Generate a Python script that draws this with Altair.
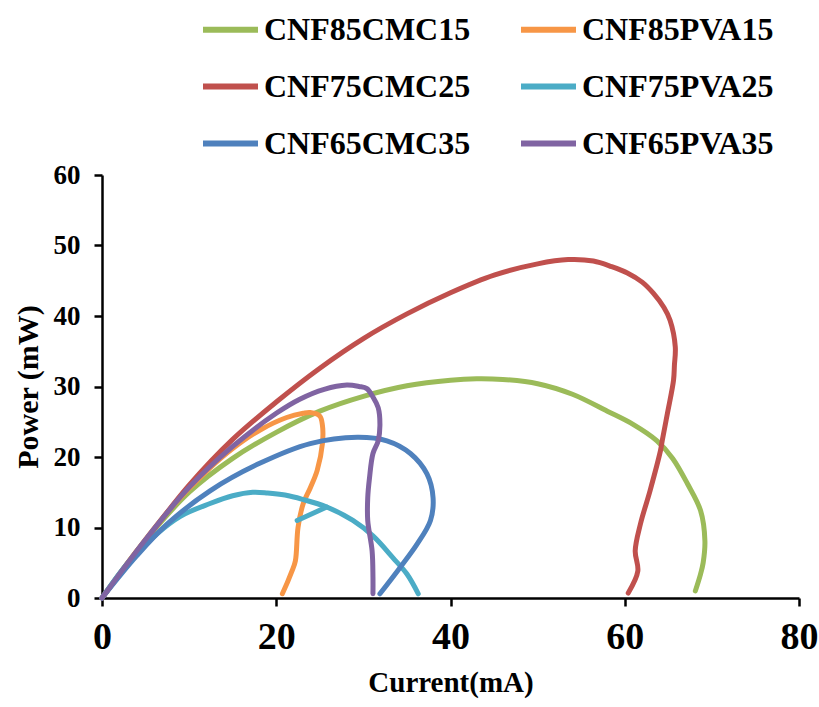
import altair as alt
import pandas as pd

# Power curves: current (mA) vs power (mW), each traced in measurement order
series_names = ["CNF85CMC15", "CNF85PVA15", "CNF75CMC25", "CNF75PVA25", "CNF65CMC35", "CNF65PVA35"]
series_colors = ["#9BBB59", "#F79646", "#C0504D", "#4BACC6", "#4F81BD", "#8064A2"]

# legend lists the CMC samples in the first column, PVA samples in the second
legend_order = ["CNF85CMC15", "CNF75CMC25", "CNF65CMC35", "CNF85PVA15", "CNF75PVA25", "CNF65PVA35"]

cnf85cmc15_current = [0, 5, 10, 15, 20, 25, 30, 35, 40, 43, 46, 50, 54, 58, 61, 63.7, 65.5, 67.2, 68.7, 69.2, 69.0, 68.7, 68.1]
cnf85cmc15_power = [0, 8.2, 15.0, 19.8, 23.5, 26.5, 28.6, 30.1, 30.9, 31.1, 31.0, 30.4, 28.9, 26.5, 24.6, 22.3, 19.8, 16.2, 12.4, 8.1, 5.0, 3.4, 1.0]

cnf85pva15_current = [0, 4, 8, 12, 15, 18.1, 21.2, 23.1, 23.9, 25.0, 25.3, 25.3, 24.7, 23.9, 23.1, 22.5, 22.2, 21.8, 20.7]
cnf85pva15_power = [0, 6.7, 12.9, 18.0, 21.2, 23.8, 25.6, 26.2, 26.3, 25.8, 24.5, 21.9, 18.1, 15.6, 13.4, 10.0, 5.3, 3.8, 0.6]

cnf75cmc25_current = [0, 5, 10, 15, 20, 25, 30, 35, 40, 45, 50, 53.5, 56.4, 58.5, 60.3, 62, 63.3, 64.5, 65.2, 65.8, 65.7, 65.6, 64.9, 64.3, 64.1, 62.9, 61.8, 61.2, 61.5, 60.4]
cnf75cmc25_power = [0, 8.2, 16.0, 22.5, 27.8, 32.6, 36.8, 40.3, 43.3, 45.8, 47.4, 48.0, 47.8, 47.0, 46.1, 44.8, 43.2, 41.2, 39.4, 35.6, 33.0, 30.9, 26.2, 22.3, 20.9, 15.2, 10.5, 6.7, 3.8, 0.7]

# CNF75PVA25 has a short stray tail; segment 1 holds that tail
cnf75pva25_current = [0, 3, 6.3, 9, 12.4, 15, 17.3, 19, 21, 23, 25.8, 28.8, 31.1, 33.4, 35.0, 36.3, 25.8, 22.4]
cnf75pva25_power = [0, 5.0, 9.1, 11.6, 13.4, 14.5, 15.0, 14.9, 14.6, 14.0, 12.9, 11.0, 8.8, 5.7, 3.4, 0.6, 12.9, 11.0]
cnf75pva25_segment = [0] * 16 + [1, 1]

cnf65cmc35_current = [0, 4, 7.5, 12.4, 18.1, 23.9, 29.3, 32.7, 35.4, 37.3, 38.0, 37.7, 36.2, 34.2, 31.9]
cnf65cmc35_power = [0, 6.0, 10.5, 15.2, 19.1, 21.9, 22.8, 22.3, 20.5, 17.6, 14.2, 11.0, 7.7, 4.3, 0.6]

cnf65pva35_current = [0, 5, 10, 15, 20, 22.7, 25.5, 28.1, 29.5, 30.4, 31.1, 31.7, 31.9, 31.7, 31.1, 30.7, 30.5, 30.5, 31.0, 31.1, 31.1]
cnf65pva35_power = [0, 8.3, 15.7, 21.5, 26.2, 28.2, 29.6, 30.2, 30.0, 29.7, 28.5, 27.0, 24.5, 22.3, 20.5, 17.0, 14.2, 11.0, 6.7, 3.0, 0.6]

x_ticks = [0, 20, 40, 60, 80]
y_ticks = [0, 10, 20, 30, 40, 50, 60]

curves = [
    (cnf85cmc15_current, cnf85cmc15_power, None),
    (cnf85pva15_current, cnf85pva15_power, None),
    (cnf75cmc25_current, cnf75cmc25_power, None),
    (cnf75pva25_current, cnf75pva25_power, cnf75pva25_segment),
    (cnf65cmc35_current, cnf65cmc35_power, None),
    (cnf65pva35_current, cnf65pva35_power, None),
]

rows = []
for name, (cur, pw, seg) in zip(series_names, curves):
    seg = seg or [0] * len(cur)
    for i, (c, p, s) in enumerate(zip(cur, pw, seg)):
        rows.append({"series": name, "current": c, "power": p, "step": i, "segment": s})
df = pd.DataFrame(rows)

color_of = dict(zip(series_names, series_colors))
legend_colors = [color_of[n] for n in legend_order]

FONT = "Liberation Serif"

chart = (
    alt.Chart(df)
    .mark_line(strokeWidth=5, strokeCap="round", strokeJoin="round", interpolate="catmull-rom")
    .encode(
        x=alt.X(
            "current:Q",
            scale=alt.Scale(domain=[0, 80], nice=False),
            axis=alt.Axis(
                title="Current(mA)",
                values=x_ticks,
                labelFontSize=38,
                labelPadding=12,
                labelFlush=False,
                titleFontSize=29,
                titlePadding=12,
            ),
        ),
        y=alt.Y(
            "power:Q",
            scale=alt.Scale(domain=[0, 60], nice=False),
            axis=alt.Axis(
                title="Power (mW)",
                values=y_ticks,
                labelFontSize=27,
                labelPadding=14,
                labelFlush=False,
                titleFontSize=30,
                titlePadding=10,
            ),
        ),
        color=alt.Color(
            "series:N",
            scale=alt.Scale(domain=legend_order, range=legend_colors),
            legend=alt.Legend(
                title=None,
                orient="none",
                legendX=98,
                legendY=-176,
                columns=2,
                columnPadding=38,
                rowPadding=10,
                symbolType="stroke",
                symbolSize=3025,
                symbolStrokeWidth=6,
                labelFontSize=32,
                labelFont=FONT,
                labelFontWeight="bold",
                labelColor="black",
                labelOffset=3,
                labelLimit=0,
            ),
        ),
        detail="segment:N",
        order="step:Q",
    )
    .properties(
        width=697,
        height=423,
        autosize="none",
        padding={"left": 102, "top": 175, "right": 20, "bottom": 109},
        background="white",
    )
    .configure_axis(
        grid=False,
        domainColor="black",
        domainWidth=2.5,
        tickColor="black",
        tickWidth=2.5,
        tickSize=8,
        labelFont=FONT,
        labelFontWeight="bold",
        labelColor="black",
        titleFont=FONT,
        titleFontWeight="bold",
        titleColor="black",
    )
    .configure_view(stroke=None)
)

chart.save("out.html", embed_options={"renderer": "svg", "actions": False})
